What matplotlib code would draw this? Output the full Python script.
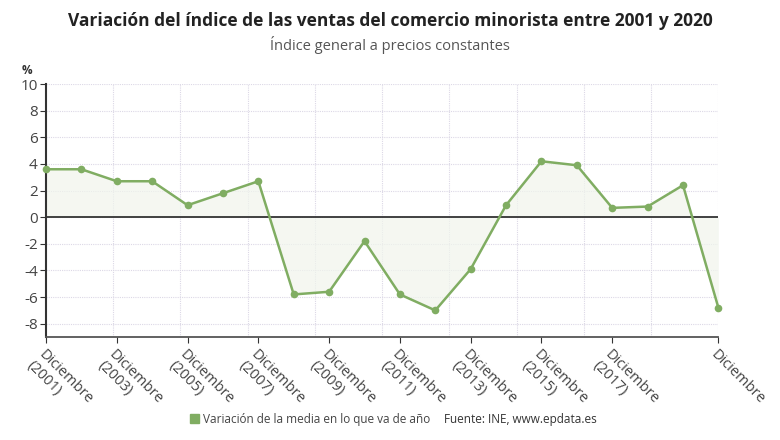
import matplotlib.pyplot as plt
import numpy as np

plt.rcParams['font.family'] = ['Open Sans', 'DejaVu Sans']

# Datos (variacion media, %)
years = list(range(2001, 2021))
values = [3.6, 3.6, 2.7, 2.7, 0.9, 1.8, 2.7, -5.8, -5.6, -1.8,
          -5.8, -7.0, -3.9, 0.9, 4.2, 3.9, 0.7, 0.8, 2.4, -6.8]
tick_years = [2001, 2003, 2005, 2007, 2009, 2011, 2013, 2015, 2017, 2020]
tick_labels = ["Diciembre\n(2001)", "Diciembre\n(2003)", "Diciembre\n(2005)",
               "Diciembre\n(2007)", "Diciembre\n(2009)", "Diciembre\n(2011)",
               "Diciembre\n(2013)", "Diciembre\n(2015)", "Diciembre\n(2017)",
               "Diciembre"]

green = "#80ad62"
text_col = "#444444"

fig = plt.figure(figsize=(7.8, 4.4), dpi=100)
ax = fig.add_axes([0.059, 0.234, 0.862, 0.575])

x = np.array(years, dtype=float)
y = np.array(values)

ax.fill_between(x, y, 0, color="#f1f5ec", alpha=0.7, linewidth=0, zorder=1)
ax.plot(x, y, color=green, linewidth=1.8, marker="o", markersize=5.5,
        markeredgewidth=0, clip_on=False, zorder=4)
ax.axhline(0, color="#333333", linewidth=1.3, zorder=3)

ax.set_xlim(2001, 2020)
ax.set_ylim(-9, 10)
ax.set_yticks(np.arange(-8, 11, 2))
ax.set_yticklabels([str(v) for v in range(-8, 11, 2)], fontsize=11, color=text_col)

# rejilla vertical en divisiones iguales del eje
for gx in np.linspace(2001, 2020, 11)[1:]:
    ax.axvline(gx, color="#dcd8e6", linewidth=0.8, linestyle=(0, (1, 1)), zorder=0)
for gy in np.arange(-8, 11, 2):
    ax.axhline(gy, color="#dcd8e6", linewidth=0.8, linestyle=(0, (1, 1)), zorder=0)

ax.set_xticks(tick_years)
ax.set_xticklabels(tick_labels, rotation=-45, ha="left", va="top",
                   rotation_mode="anchor", fontsize=10.5, color=text_col,
                   linespacing=1.15)
ax.tick_params(axis="x", length=4, color="#333333", pad=3)
ax.tick_params(axis="y", length=4, color="#333333", pad=2)

for side in ["top", "right"]:
    ax.spines[side].set_visible(False)
ax.spines["left"].set_color("#333333")
ax.spines["left"].set_linewidth(1.5)
ax.spines["bottom"].set_color("#555555")
ax.spines["bottom"].set_linewidth(1.3)

fig.text(0.5, 0.952, "Variación del índice de las ventas del comercio minorista entre 2001 y 2020",
         ha="center", va="center", fontsize=12.5, fontweight="bold", color="#222222")
fig.text(0.5, 0.897, "Índice general a precios constantes",
         ha="center", va="center", fontsize=10.5, color="#555555")
fig.text(0.028, 0.84, "%", ha="left", va="center", fontsize=8.5,
         fontweight="bold", color="#333333")

fig.patches.append(plt.Rectangle((0.244, 0.038), 0.011, 0.02, transform=fig.transFigure,
                                 color=green, figure=fig))
fig.text(0.260, 0.047, "Variación de la media en lo que va de año",
         ha="left", va="center", fontsize=8.5, color=text_col)
fig.text(0.569, 0.047, "Fuente: INE, www.epdata.es",
         ha="left", va="center", fontsize=8.5, color="#333333")

fig.savefig("out.png", dpi=100)
